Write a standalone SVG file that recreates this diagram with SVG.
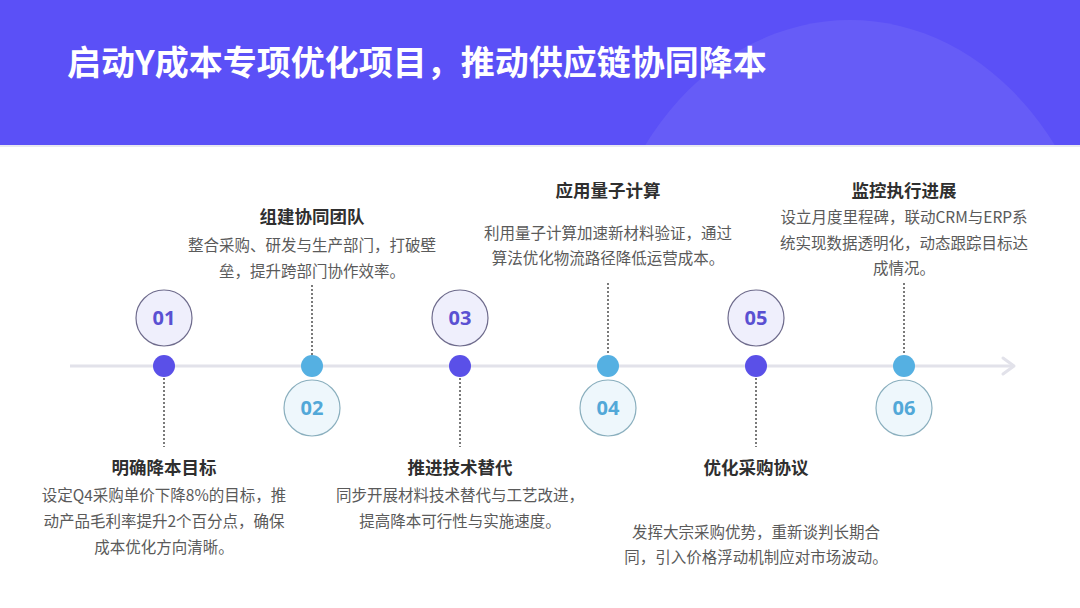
<svg xmlns="http://www.w3.org/2000/svg" width="1080" height="608" viewBox="0 0 1080 608">
<defs>
<style>
.title{font-family:"Noto Sans CJK SC","Noto Sans",sans-serif;font-weight:700;font-size:34px;fill:#ffffff}
.h{font-family:"Noto Sans CJK SC","Noto Sans",sans-serif;font-weight:700;font-size:17.5px;fill:#2f2f2f;text-anchor:middle}
.d{font-family:"Noto Sans CJK SC","Noto Sans",sans-serif;font-size:15.5px;fill:#5a5a5a;text-anchor:middle}
.num{font-family:"Open Sans","Noto Sans",sans-serif;font-weight:700;font-size:20px;text-anchor:middle}
.ocirc{fill:#EFEFFC;stroke:#6E6B8C;stroke-width:1.2}
.ecirc{fill:#EEF7FC;stroke:#8AAFBE;stroke-width:1.2}
.onum{fill:#5A50D2}
.enum{fill:#52A8D8}
.odot{fill:#5A50E8}
.edot{fill:#55B0E2}
.dots{stroke:#7a7a7a;stroke-width:2;stroke-dasharray:2 2;fill:none}
</style>
<clipPath id="hc"><rect x="0" y="0" width="1080" height="145"/></clipPath>
</defs>
<rect x="0" y="0" width="1080" height="608" fill="#ffffff"/>
<g id="header">
<rect x="0" y="0" width="1080" height="145" fill="#5B50F7"/>
<g clip-path="url(#hc)">
<ellipse cx="850" cy="330" rx="255" ry="310" fill="#ffffff" fill-opacity="0.07"/>
</g>
<rect x="0" y="145" width="1080" height="2" fill="#e8e8f0"/>
<text class="title" x="67" y="75">启动Y成本专项优化项目，推动供应链协同降本</text>
</g>
<g id="connectors">
<line x1="70" y1="366" x2="1013" y2="366" stroke="#E2E2EA" stroke-width="3"/>
<polyline points="1003,358 1014,366 1003,374" fill="none" stroke="#E2E2EA" stroke-width="3" stroke-linecap="round" stroke-linejoin="round"/>
<line class="dots" x1="164" y1="378" x2="164" y2="447"/>
<line class="dots" x1="312" y1="285" x2="312" y2="355"/>
<line class="dots" x1="460" y1="378" x2="460" y2="447"/>
<line class="dots" x1="608" y1="283" x2="608" y2="355"/>
<line class="dots" x1="756" y1="378" x2="756" y2="447"/>
<line class="dots" x1="904" y1="283" x2="904" y2="355"/>
</g>
<g id="node01">
<circle class="ocirc" cx="164" cy="318" r="28"/>
<text class="num onum" x="164" y="325">01</text>
<circle class="odot" cx="164" cy="366" r="11"/>
<text class="h" x="164" y="474">明确降本目标</text>
<text class="d" x="164" y="501">设定Q4采购单价下降8%的目标，推</text>
<text class="d" x="164" y="527">动产品毛利率提升2个百分点，确保</text>
<text class="d" x="164" y="553">成本优化方向清晰。</text>
</g>
<g id="node02">
<circle class="ecirc" cx="312" cy="408" r="28"/>
<text class="num enum" x="312" y="415">02</text>
<circle class="edot" cx="312" cy="366" r="11"/>
<text class="h" x="312" y="223">组建协同团队</text>
<text class="d" x="312" y="251">整合采购、研发与生产部门，打破壁</text>
<text class="d" x="312" y="277">垒，提升跨部门协作效率。</text>
</g>
<g id="node03">
<circle class="ocirc" cx="460" cy="318" r="28"/>
<text class="num onum" x="460" y="325">03</text>
<circle class="odot" cx="460" cy="366" r="11"/>
<text class="h" x="460" y="474">推进技术替代</text>
<text class="d" x="460" y="501">同步开展材料技术替代与工艺改进，</text>
<text class="d" x="460" y="527">提高降本可行性与实施速度。</text>
</g>
<g id="node04">
<circle class="ecirc" cx="608" cy="408" r="28"/>
<text class="num enum" x="608" y="415">04</text>
<circle class="edot" cx="608" cy="366" r="11"/>
<text class="h" x="608" y="197">应用量子计算</text>
<text class="d" x="608" y="239">利用量子计算加速新材料验证，通过</text>
<text class="d" x="608" y="264">算法优化物流路径降低运营成本。</text>
</g>
<g id="node05">
<circle class="ocirc" cx="756" cy="318" r="28"/>
<text class="num onum" x="756" y="325">05</text>
<circle class="odot" cx="756" cy="366" r="11"/>
<text class="h" x="756" y="474">优化采购协议</text>
<text class="d" x="756" y="538">发挥大宗采购优势，重新谈判长期合</text>
<text class="d" x="756" y="563">同，引入价格浮动机制应对市场波动。</text>
</g>
<g id="node06">
<circle class="ecirc" cx="904" cy="408" r="28"/>
<text class="num enum" x="904" y="415">06</text>
<circle class="edot" cx="904" cy="366" r="11"/>
<text class="h" x="904" y="197">监控执行进展</text>
<text class="d" x="904" y="223">设立月度里程碑，联动CRM与ERP系</text>
<text class="d" x="904" y="249">统实现数据透明化，动态跟踪目标达</text>
<text class="d" x="904" y="274">成情况。</text>
</g>
</svg>
